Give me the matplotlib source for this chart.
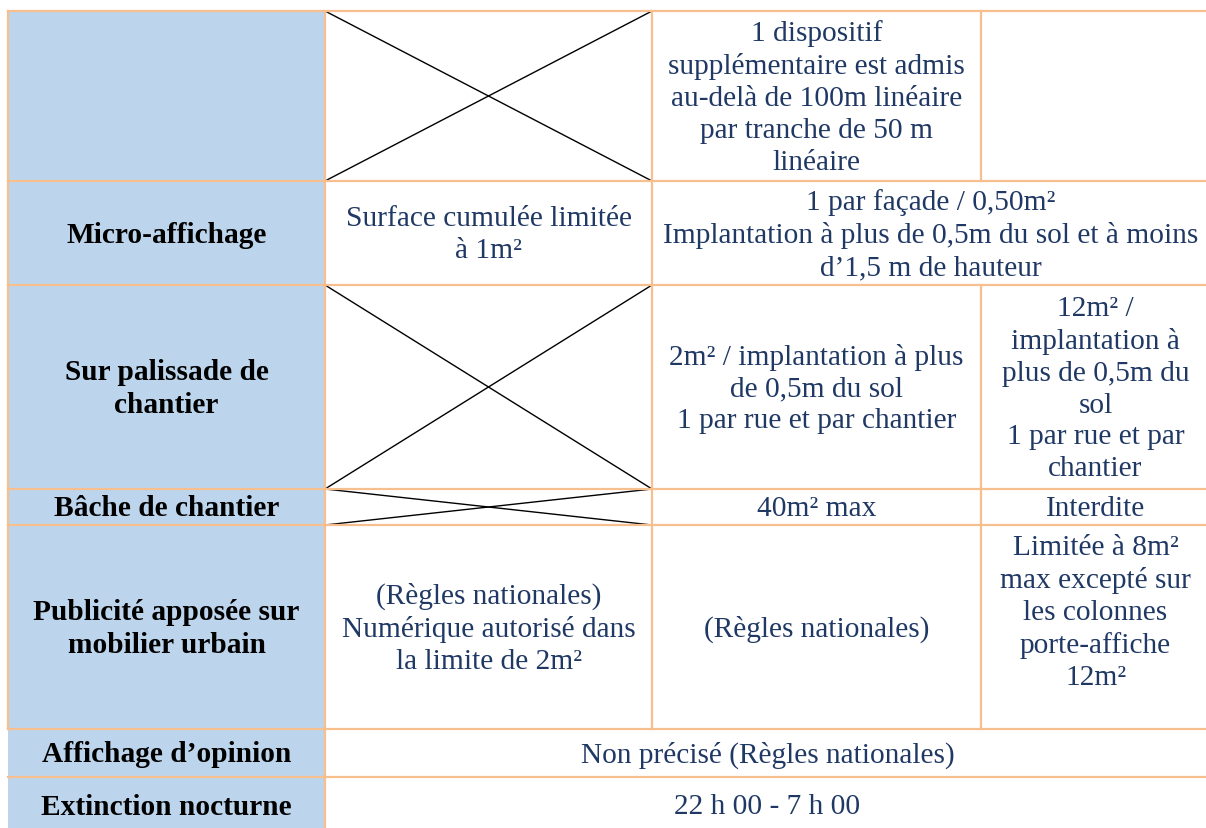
import matplotlib
import matplotlib.pyplot as plt
matplotlib.use('agg')

# table content
row_headers = [
    "",
    "Micro-affichage",
    "Sur palissade de\nchantier",
    "Bâche de chantier",
    "Publicité apposée sur\nmobilier urbain",
    "Affichage d’opinion",
    "Extinction nocturne",
]
# cells per row: (first column index, last column index, text); None text = crossed cell
row_cells = [
    [(1, 1, None),
     (2, 2, "1 dispositif\nsupplémentaire est admis\nau-delà de 100m linéaire\npar tranche de 50 m\nlinéaire"),
     (3, 3, "")],
    [(1, 1, "Surface cumulée limitée\nà 1m²"),
     (2, 3, "1 par façade / 0,50m²\nImplantation à plus de 0,5m du sol et à moins\nd’1,5 m de hauteur")],
    [(1, 1, None),
     (2, 2, "2m² / implantation à plus\nde 0,5m du sol\n1 par rue et par chantier"),
     (3, 3, "12m² /\nimplantation à\nplus de 0,5m du\nsol\n1 par rue et par\nchantier")],
    [(1, 1, None),
     (2, 2, "40m² max"),
     (3, 3, "Interdite")],
    [(1, 1, "(Règles nationales)\nNumérique autorisé dans\nla limite de 2m²"),
     (2, 2, "(Règles nationales)"),
     (3, 3, "Limitée à 8m²\nmax excepté sur\nles colonnes\nporte-affiche\n12m²\n")],
    [(1, 3, "Non précisé (Règles nationales)")],
    [(1, 3, "22 h 00 - 7 h 00")],
]

# layout (pixels)
col_edges = [8, 325, 652, 981, 1210]
row_edges = [12, 182, 286, 490, 526, 730, 778, 835]

border = '#F7BE8E'
header_bg = '#BDD5EC'
text_col = '#1F3864'
font = 'Liberation Serif'
fs = 21.2
ls = 1.29

fig = plt.figure(figsize=(12.06, 8.29), dpi=100)
ax = fig.add_axes([0, 0, 1, 1])
ax.set_xlim(0, 1206)
ax.set_ylim(829, 0)
ax.axis('off')

# header column background
ax.fill_between([col_edges[0], col_edges[1]], row_edges[0], row_edges[-1],
                color=header_bg, lw=0, zorder=0)

for r, header in enumerate(row_headers):
    top, bot = row_edges[r], row_edges[r + 1]
    mid = (top + bot) / 2
    ax.text((col_edges[0] + col_edges[1]) / 2, mid + 1, header, ha='center', va='center',
            fontsize=fs, fontweight='bold', family=font, color='black',
            linespacing=ls)
    for c0, c1, txt in row_cells[r]:
        x0, x1 = col_edges[c0], col_edges[c1 + 1]
        if txt is None:
            ax.plot([x0, x1], [top, bot], color='black', lw=1.0, zorder=2)
            ax.plot([x0, x1], [bot, top], color='black', lw=1.0, zorder=2)
        elif txt:
            ax.text((x0 + x1) / 2, mid + 1, txt, ha='center', va='center',
                    fontsize=fs, family=font, color=text_col, linespacing=ls)
        # vertical borders
        if c1 + 1 < len(col_edges) - 1:
            ax.plot([x1, x1], [top, bot], color=border, lw=1.6, zorder=3)
    ax.plot([col_edges[1], col_edges[1]], [top, bot], color=border, lw=1.6, zorder=3)

# horizontal borders
for y in row_edges[:-1]:
    ax.plot([col_edges[0], 1206], [y, y], color=border, lw=1.6, zorder=3)
ax.plot([col_edges[0], col_edges[0]], [row_edges[0], row_edges[5]], color=border, lw=1.6, zorder=3)

fig.savefig('out.png', dpi=100)
